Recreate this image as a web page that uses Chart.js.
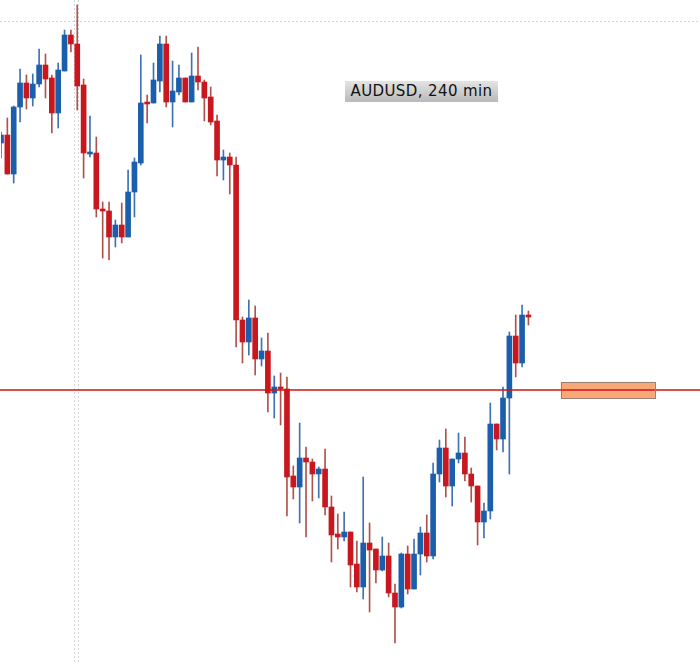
<!DOCTYPE html>
<html lang="en">
<head>
    <meta charset="UTF-8">
    <title>AUDUSD, 240 min</title>
    <script src="https://cdn.jsdelivr.net/npm/chart.js"></script>
    <style>
        body {
            margin: 0;
            background: #ffffff;
        }
        .wrap {
            position: relative;
            width: 700px;
            height: 664px;
        }
        .symbol-label {
            position: absolute;
            left: 345px;
            top: 81px;
            width: 153px;
            height: 21px;
            line-height: 21px;
            text-align: center;
            font-family: 'DejaVu Sans', sans-serif;
            font-size: 15px;
            letter-spacing: 0.4px;
            color: #111111;
            background: linear-gradient(to bottom, #e4e4e4, #b9b9b9);
            white-space: nowrap;
        }
    </style>
</head>
<body>
    <div class="wrap">
        <canvas id="candles" width="700" height="664"></canvas>
        <div class="symbol-label">AUDUSD, 240 min</div>
    </div>

    <script>
        // OHLC (one candle per 240 min bar)
        const openPrices = [
            0.7857, 0.7865, 0.7826, 0.7893, 0.7917, 0.7902, 0.7916, 0.7935, 0.7922, 0.7887,
            0.7929, 0.7965, 0.7956, 0.7915, 0.7846, 0.7847, 0.7791, 0.7789, 0.7763, 0.7775,
            0.7763, 0.7808, 0.7837, 0.7898, 0.7897, 0.7919, 0.7956, 0.7898, 0.7908, 0.7922,
            0.7898, 0.7924, 0.7918, 0.7903, 0.7879, 0.7840, 0.7843, 0.7835, 0.7680, 0.7658,
            0.7682, 0.7641, 0.7649, 0.7607, 0.7613, 0.7611, 0.7524, 0.7513, 0.7542, 0.7538,
            0.7526, 0.7531, 0.7493, 0.7466, 0.7463, 0.7468, 0.7436, 0.7413, 0.7457, 0.7451,
            0.7430, 0.7444, 0.7407, 0.7393, 0.7446, 0.7411, 0.7446, 0.7467, 0.7444, 0.7526,
            0.7552, 0.7514, 0.7541, 0.7547, 0.7526, 0.7514, 0.7478, 0.7489, 0.7576, 0.7561,
            0.7602, 0.7664, 0.7637, 0.7685
        ];
        const highPrices = [
            0.7868, 0.7882, 0.7894, 0.7931, 0.7925, 0.7926, 0.7951, 0.7946, 0.7925, 0.7937,
            0.7970, 0.7970, 0.7995, 0.7921, 0.7884, 0.7863, 0.7798, 0.7798, 0.7780, 0.7797,
            0.7830, 0.7842, 0.7945, 0.7905, 0.7937, 0.7964, 0.7964, 0.7939, 0.7935, 0.7922,
            0.7947, 0.7953, 0.7920, 0.7913, 0.7885, 0.7850, 0.7847, 0.7843, 0.7683, 0.7700,
            0.7694, 0.7662, 0.7667, 0.7624, 0.7627, 0.7623, 0.7534, 0.7577, 0.7553, 0.7541,
            0.7533, 0.7551, 0.7504, 0.7486, 0.7488, 0.7468, 0.7459, 0.7523, 0.7477, 0.7451,
            0.7463, 0.7457, 0.7416, 0.7447, 0.7454, 0.7461, 0.7473, 0.7485, 0.7537, 0.7560,
            0.7571, 0.7541, 0.7567, 0.7563, 0.7532, 0.7514, 0.7497, 0.7597, 0.7576, 0.7613,
            0.7668, 0.7685, 0.7695, 0.7689
        ];
        const lowPrices = [
            0.7842, 0.7826, 0.7817, 0.7878, 0.7891, 0.7894, 0.7913, 0.7902, 0.7867, 0.7872,
            0.7929, 0.7948, 0.7890, 0.7822, 0.7843, 0.7783, 0.7742, 0.7740, 0.7753, 0.7757,
            0.7763, 0.7783, 0.7835, 0.7877, 0.7897, 0.7908, 0.7893, 0.7873, 0.7905, 0.7898,
            0.7898, 0.7910, 0.7879, 0.7875, 0.7824, 0.7820, 0.7806, 0.7653, 0.7637, 0.7645,
            0.7625, 0.7634, 0.7588, 0.7582, 0.7575, 0.7484, 0.7501, 0.7477, 0.7463, 0.7499,
            0.7502, 0.7485, 0.7438, 0.7451, 0.7459, 0.7413, 0.7408, 0.7401, 0.7388, 0.7417,
            0.7429, 0.7403, 0.7357, 0.7392, 0.7406, 0.7411, 0.7425, 0.7438, 0.7441, 0.7518,
            0.7503, 0.7494, 0.7537, 0.7519, 0.7498, 0.7455, 0.7462, 0.7481, 0.7550, 0.7548,
            0.7526, 0.7623, 0.7633, 0.7675
        ];
        const closePrices = [
            0.7865, 0.7826, 0.7893, 0.7917, 0.7902, 0.7916, 0.7935, 0.7921, 0.7887, 0.7930,
            0.7965, 0.7956, 0.7914, 0.7847, 0.7848, 0.7791, 0.7789, 0.7763, 0.7775, 0.7763,
            0.7808, 0.7838, 0.7897, 0.7896, 0.7920, 0.7956, 0.7898, 0.7909, 0.7922, 0.7898,
            0.7924, 0.7918, 0.7902, 0.7878, 0.7840, 0.7843, 0.7835, 0.7680, 0.7658, 0.7682,
            0.7641, 0.7649, 0.7607, 0.7613, 0.7611, 0.7523, 0.7513, 0.7542, 0.7538, 0.7526,
            0.7531, 0.7493, 0.7465, 0.7463, 0.7468, 0.7435, 0.7413, 0.7457, 0.7450, 0.7430,
            0.7444, 0.7407, 0.7393, 0.7446, 0.7411, 0.7446, 0.7467, 0.7444, 0.7526, 0.7552,
            0.7514, 0.7541, 0.7547, 0.7526, 0.7514, 0.7478, 0.7489, 0.7576, 0.7561, 0.7602,
            0.7664, 0.7637, 0.7685, 0.7683
        ];

        // empty bars kept on the right of the last candle
        const emptySlots = 27;

        // horizontal level + the zone box at its right
        const levelPrice = 0.7610;
        const zoneFrom = 88.1, zoneTo = 102.9;
        const zoneHigh = 0.7618, zoneLow = 0.7602;

        // dotted grid (bar index / price)
        const gridBars = [11.5, 12.1];
        const gridPrice = 0.7979;

        const priceMin = 0.7336, priceMax = 0.8000;

        const upColor = '#1b5eab', downColor = '#c8171e';
        const upWick = '#3e72b2', downWick = '#b0524c';

        const labels = [];
        for (let i = 0; i < openPrices.length + emptySlots; i++) labels.push('');

        const bodies = openPrices.map((o, i) => [o, closePrices[i]]);
        const wicks = lowPrices.map((l, i) => [l, highPrices[i]]);
        const isUp = openPrices.map((o, i) => closePrices[i] > o);

        const overlay = {
            id: 'overlay',
            beforeDatasetsDraw(chart) {
                const { ctx, chartArea, scales: { x, y } } = chart;
                ctx.save();
                ctx.strokeStyle = '#d6d6d6';
                ctx.lineWidth = 1;
                ctx.setLineDash([2, 2]);
                gridBars.forEach(b => {
                    const px = Math.round(x.getPixelForValue(b)) + 0.5;
                    ctx.beginPath();
                    ctx.moveTo(px, 0);
                    ctx.lineTo(px, chartArea.bottom);
                    ctx.stroke();
                });
                const py = Math.round(y.getPixelForValue(gridPrice)) + 0.5;
                ctx.beginPath();
                ctx.moveTo(0, py);
                ctx.lineTo(chart.width, py);
                ctx.stroke();
                ctx.restore();
            },
            afterDatasetsDraw(chart) {
                const { ctx, scales: { x, y } } = chart;
                ctx.save();
                const ly = y.getPixelForValue(levelPrice);
                ctx.strokeStyle = '#d01414';
                ctx.lineWidth = 1.5;
                ctx.beginPath();
                ctx.moveTo(0, ly);
                ctx.lineTo(chart.width, ly);
                ctx.stroke();

                const x0 = x.getPixelForValue(zoneFrom), x1 = x.getPixelForValue(zoneTo);
                const y0 = y.getPixelForValue(zoneHigh), y1 = y.getPixelForValue(zoneLow);
                ctx.fillStyle = '#f8a878';
                ctx.fillRect(x0, y0, x1 - x0, y1 - y0);
                ctx.strokeStyle = '#9a8070';
                ctx.lineWidth = 1;
                ctx.strokeRect(Math.round(x0) + 0.5, Math.round(y0) + 0.5, Math.round(x1 - x0), Math.round(y1 - y0));
                ctx.beginPath();
                ctx.strokeStyle = '#d01414';
                ctx.lineWidth = 1.5;
                ctx.moveTo(x0, ly);
                ctx.lineTo(x1, ly);
                ctx.stroke();
                ctx.restore();
            }
        };

        new Chart(document.getElementById('candles').getContext('2d'), {
            type: 'bar',
            data: {
                labels: labels,
                datasets: [
                    {
                        label: 'Body',
                        data: bodies,
                        backgroundColor: isUp.map(u => u ? upColor : downColor),
                        barThickness: 5,
                        grouped: false,
                        order: 0
                    },
                    {
                        label: 'Wick',
                        data: wicks,
                        backgroundColor: isUp.map(u => u ? upWick : downWick),
                        barThickness: 1,
                        grouped: false,
                        order: 1
                    }
                ]
            },
            options: {
                responsive: false,
                animation: false,
                layout: { padding: { left: 1, right: 0, top: 0, bottom: 0 } },
                plugins: {
                    legend: { display: false },
                    tooltip: { enabled: false }
                },
                scales: {
                    x: { display: false, offset: false },
                    y: { display: false, min: priceMin, max: priceMax }
                }
            },
            plugins: [overlay]
        });
    </script>
</body>
</html>
